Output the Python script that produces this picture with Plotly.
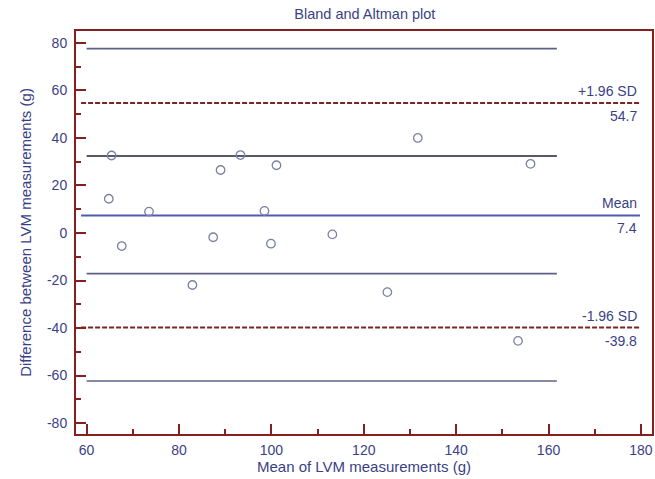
import plotly.graph_objects as go

# Data: mean of LVM measurements (x) and difference (y)
mean_lvm = [65.4, 93.3, 89.0, 101.1, 64.8, 73.5, 98.5, 87.4, 67.6, 99.9,
            82.9, 131.7, 156.1, 113.2, 125.1, 153.4]
diff_lvm = [32.6, 32.8, 26.5, 28.5, 14.4, 9.0, 9.3, -1.8, -5.5, -4.5,
            -21.9, 40.0, 29.1, -0.6, -24.9, -45.4]

mean_diff = 7.4
upper_loa = 54.7
lower_loa = -39.8
upper_loa_ci = [32.4, 77.6]
lower_loa_ci = [-62.3, -17.1]

ref_x = [58.8, 179.8]      # extent of mean / LoA lines
ci_x = [60, 161.8]         # extent of CI lines

x_ticks = [60, 80, 100, 120, 140, 160, 180]
y_ticks = [-80, -60, -40, -20, 0, 20, 40, 60, 80]
y_tick_labels = ["-80", "-60", "-40", "-20", "0", "20", "40", "60", "80"]

navy = "#3b3f86"
dred = "#862020"
ci_col = "#5d6285"
font = "Arial, Liberation Sans, sans-serif"

fig = go.Figure()

# CI lines
for v, col in [(upper_loa_ci[1], ci_col), (upper_loa_ci[0], "#202033"),
               (lower_loa_ci[1], ci_col), (lower_loa_ci[0], ci_col)]:
    fig.add_trace(go.Scatter(x=ci_x, y=[v, v], mode="lines",
                             line=dict(color=col, width=1.6), hoverinfo="skip"))

# LoA dashed lines
for v in [upper_loa, lower_loa]:
    fig.add_trace(go.Scatter(x=ref_x, y=[v, v], mode="lines",
                             line=dict(color="#7a2424", width=2, dash="5px,2px"),
                             hoverinfo="skip"))
# Mean line
fig.add_trace(go.Scatter(x=ref_x, y=[mean_diff, mean_diff], mode="lines",
                         line=dict(color="#4f5cae", width=2), hoverinfo="skip"))

# Points
fig.add_trace(go.Scatter(x=mean_lvm, y=diff_lvm, mode="markers",
                         marker=dict(symbol="circle-open", size=8.5,
                                     color="#7c80a3", line=dict(width=1.3))))

# Labels at right
labels = [("+1.96 SD", f"{upper_loa}", upper_loa),
          ("Mean", f"{mean_diff}", mean_diff),
          ("-1.96 SD", f"{lower_loa}", lower_loa)]
for top, bot, v in labels:
    fig.add_annotation(x=ref_x[1], y=v, text=top, showarrow=False,
                       xanchor="right", yanchor="middle", yshift=12, xshift=-1,
                       font=dict(color=navy, size=14, family=font))
    fig.add_annotation(x=ref_x[1], y=v, text=bot, showarrow=False,
                       xanchor="right", yanchor="middle", yshift=-13, xshift=-1,
                       font=dict(color=navy, size=14, family=font))

axis_common = dict(
    showgrid=False, zeroline=False, showline=True, linecolor=dred, linewidth=2,
    mirror=True, ticks="inside", ticklen=10, tickwidth=2, tickcolor=dred,
    tickfont=dict(color=navy, size=14, family=font),
    minor=dict(ticks="inside", ticklen=5, tickwidth=1.5, tickcolor=dred, dtick=10),
)

fig.update_layout(
    width=655, height=479,
    margin=dict(l=76, r=3, t=31, b=45, autoexpand=False),
    paper_bgcolor="white", plot_bgcolor="white",
    showlegend=False,
    title=dict(text="Bland and Altman plot", x=0.557, xanchor="center",
               y=0.971, yanchor="middle",
               font=dict(color=navy, size=14.5, family=font)),
    xaxis=dict(range=[57.7, 182.4], tickvals=x_ticks, ticklabelstandoff=2,
               title=dict(text="Mean of LVM measurements (g)", standoff=5,
                          font=dict(color=navy, size=15, family=font)),
               **axis_common),
    yaxis=dict(range=[-84.6, 85], tickvals=y_ticks, ticktext=y_tick_labels,
               ticklabelstandoff=4,
               title=dict(text="Difference between LVM measurements (g)", standoff=12,
                          font=dict(color=navy, size=15, family=font)),
               **axis_common),
)

fig.write_html("out.html",
               config={"displayModeBar": False},
               post_script="document.body.style.margin='0';"
                           "document.documentElement.style.overflow='hidden';"
                           "document.body.style.overflow='hidden';")
